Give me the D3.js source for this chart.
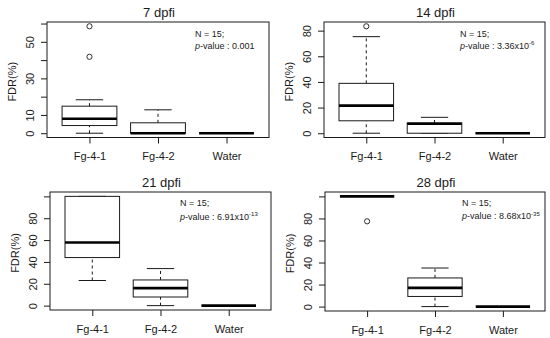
<!DOCTYPE html>
<html>
<head>
<meta charset="utf-8">
<script src="https://cdn.jsdelivr.net/npm/d3@7"></script>
<style>
  body { margin: 0; background: #fff; }
  svg { display: block; font-family: "Liberation Sans", Arial, sans-serif; }
</style>
</head>
<body>
<div id="chart"></div>
<script>
// groups on the x axis
var groups = ["Fg-4-1", "Fg-4-2", "Water"];
var titles = ["7 dpfi", "14 dpfi", "21 dpfi", "28 dpfi"];

// box stats per group: [lower whisker, Q1, median, Q3, upper whisker]
var stats7  = [[0, 4.2, 7.9, 14.8, 18.3], [0, 0, 0, 5.7, 12.8], [0, 0, 0, 0, 0]];
var stats14 = [[0, 9.7, 21.5, 38.9, 75.3], [0, 0, 7.4, 8.0, 12.4], [0, 0, 0, 0, 0]];
var stats21 = [[23, 44, 57.8, 100, 100], [0, 7.9, 16, 23.5, 33.9], [0, 0, 0, 0, 0]];
var stats28 = [[100, 100, 100, 100, 100], [0, 9.2, 17, 26, 35], [0, 0, 0, 0, 0]];

// outliers per group
var out7  = [[58.5, 41.8], [], []];
var out14 = [[83.4], [], []];
var out21 = [[], [], []];
var out28 = [[77.4], [], []];

// y tick marks and the ones that carry a label
var ticks7 = [0, 10, 20, 30, 40, 50, 60];
var labels7 = [0, 10, 30, 50];
var ticks14 = [0, 20, 40, 60, 80];
var labels14 = [0, 20, 40, 60, 80];
var ticks21 = [0, 20, 40, 60, 80, 100];
var labels21 = [0, 20, 40, 60, 80];
var ticks28 = [0, 20, 40, 60, 80, 100];
var labels28 = [0, 20, 40, 60, 80];

var nText = "N = 15;";
var pBase = ["0.001", "3.36x10", "6.91x10", "8.68x10"];
var pExp = ["", "-6", "-13", "-35"];

/////////////////////////////////////

var W = 550, H = 338;
var svg = d3.select("#chart").append("svg")
    .attr("width", W).attr("height", H);

// plot boxes (left, top, right, bottom) and annotation spots
var layout = [
    { box: [47, 22, 269, 137.5], ann: [195, 36.5, 48.5] },
    { box: [324, 22, 545, 137.5], ann: [460, 36.5, 48.5] },
    { box: [50, 192, 271, 310], ann: [180, 206, 219.5] },
    { box: [325, 192, 545, 311], ann: [462, 206, 219] }
];

var allStats = [stats7, stats14, stats21, stats28];
var allOut = [out7, out14, out21, out28];
var allTicks = [ticks7, ticks14, ticks21, ticks28];
var allLabels = [labels7, labels14, labels21, labels28];

var ink = "#1a1a1a";

layout.forEach(function(lay, i) {
    drawPanel(lay, allStats[i], allOut[i], allTicks[i], allLabels[i], titles[i], pBase[i], pExp[i]);
});

function drawPanel(lay, stats, outs, ticks, labels, title, pb, pe) {
    var b = lay.box;
    var g = svg.append("g");

    // R style 4% padding on both scales
    var vals = [];
    stats.forEach(function(s) { vals = vals.concat(s); });
    outs.forEach(function(o) { vals = vals.concat(o); });
    var lo = d3.min(vals), hi = d3.max(vals);
    var pad = (hi - lo) * 0.04;

    var x = d3.scaleLinear().domain([0.38, 3.62]).range([b[0], b[2]]);
    var y = d3.scaleLinear().domain([lo - pad, hi + pad]).range([b[3], b[1]]);

    var step = x(2) - x(1);
    var bw = step * 0.8;
    var cw = bw * 0.5;

    // y axis ticks (axis sits on the box edge)
    var yAxis = d3.axisLeft(y).tickValues(ticks).tickSize(6).tickFormat(function(d) {
        return labels.indexOf(d) >= 0 ? d : "";
    });
    var ya = g.append("g").attr("transform", "translate(" + b[0] + ",0)").call(yAxis);
    ya.select(".domain").remove();
    ya.selectAll("line").attr("stroke", ink);
    ya.selectAll("text")
        .attr("x", 0).attr("y", 0).attr("dy", "0.35em")
        .attr("transform", "translate(-17,0) rotate(-90)")
        .attr("text-anchor", "middle")
        .style("font-size", "11px").attr("fill", ink);

    // x axis ticks
    var xAxis = d3.axisBottom(x).tickValues([1, 2, 3]).tickSize(6).tickFormat(function(d) { return groups[d - 1]; });
    var xa = g.append("g").attr("transform", "translate(0," + b[3] + ")").call(xAxis);
    xa.select(".domain").remove();
    xa.selectAll("line").attr("stroke", ink);
    xa.selectAll("text").attr("y", 15).style("font-size", "11px").attr("fill", ink);

    // frame
    g.append("rect")
        .attr("x", b[0]).attr("y", b[1])
        .attr("width", b[2] - b[0]).attr("height", b[3] - b[1])
        .attr("fill", "none").attr("stroke", ink).attr("stroke-width", 1);

    // boxes
    stats.forEach(function(s, k) {
        var cx = x(k + 1);
        var bg = g.append("g");
        bg.append("line")
            .attr("x1", cx).attr("x2", cx).attr("y1", y(s[0])).attr("y2", y(s[1]))
            .attr("stroke", ink).attr("stroke-dasharray", "3,3");
        bg.append("line")
            .attr("x1", cx).attr("x2", cx).attr("y1", y(s[3])).attr("y2", y(s[4]))
            .attr("stroke", ink).attr("stroke-dasharray", "3,3");
        bg.selectAll("line.cap").data([s[0], s[4]]).enter().append("line")
            .attr("class", "cap")
            .attr("x1", cx - cw / 2).attr("x2", cx + cw / 2)
            .attr("y1", function(d) { return y(d); }).attr("y2", function(d) { return y(d); })
            .attr("stroke", ink);
        bg.append("rect")
            .attr("x", cx - bw / 2).attr("width", bw)
            .attr("y", y(s[3])).attr("height", y(s[1]) - y(s[3]))
            .attr("fill", "#fff").attr("stroke", ink);
        bg.append("line")
            .attr("x1", cx - bw / 2).attr("x2", cx + bw / 2)
            .attr("y1", y(s[2])).attr("y2", y(s[2]))
            .attr("stroke", "#000").attr("stroke-width", 2.6);
        bg.selectAll("circle").data(outs[k]).enter().append("circle")
            .attr("cx", cx).attr("cy", function(d) { return y(d); })
            .attr("r", 2.6)
            .attr("fill", "none").attr("stroke", ink).attr("stroke-width", 0.9);
    });

    // title
    g.append("text")
        .attr("x", (b[0] + b[2]) / 2 + 1).attr("y", b[1] - 5)
        .attr("text-anchor", "middle")
        .style("font-size", "13px").attr("fill", ink)
        .text(title);

    // y label
    var lx = b[0] - 35, ly = (b[1] + b[3]) / 2 + 2;
    g.append("text")
        .attr("transform", "translate(" + lx + "," + ly + ") rotate(-90)")
        .attr("text-anchor", "middle").attr("dy", "0.35em")
        .style("font-size", "11px").attr("fill", ink)
        .text("FDR(%)");

    // annotation
    var a = lay.ann;
    g.append("text").attr("x", a[0]).attr("y", a[1])
        .style("font-size", "9px").attr("fill", ink).text(nText);
    var pt = g.append("text").attr("x", a[0]).attr("y", a[2])
        .style("font-size", "9px").attr("fill", ink);
    pt.append("tspan").style("font-style", "italic").text("p");
    pt.append("tspan").text("-value : " + pb);
    if (pe) {
        pt.append("tspan").attr("dy", -3.5).style("font-size", "6px").text(pe);
    }
}
</script>
</body>
</html>
